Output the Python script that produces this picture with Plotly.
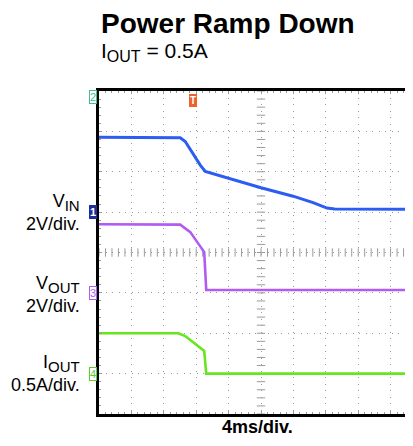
import numpy as np
import plotly.graph_objects as go

# ---- data (read from the scope capture) ----
# time from left edge of screen, ms (4 ms/div)
t_vin = [0.0, 9.42, 10.03, 10.65, 12.50, 13.12, 16.2, 20.0, 23.96, 26.43, 28.15, 29.1, 40.0]
vin_v = [3.71, 3.71, 3.68, 3.50, 2.33, 2.02, 1.65, 1.21, 0.79, 0.47, 0.20, 0.15, 0.14]

t_vout = [0.0, 9.79, 10.03, 11.27, 12.50, 12.99, 13.24, 40.0]
vout_v = [3.40, 3.40, 3.38, 3.01, 2.30, 2.02, 0.14, 0.14]

t_iout = [0.0, 9.79, 10.65, 12.99, 13.24, 40.0]
iout_a = [0.50, 0.50, 0.465, 0.28, 0.0, 0.0]

# scope settings: scale per division and ground-marker position (div)
ms_per_div = 4.0
vin_scale, vin_offset = 2.0, 5.0
vout_scale, vout_offset = 2.0, 3.0
iout_scale, iout_offset = 0.5, 1.0
trigger_ms = 11.64

BLUE = "#2c5cf2"
PURPLE = "#b05cf2"
GREEN = "#66e61e"
GRID = "#9a9a9a"
FONT = "Liberation Sans, Arial, sans-serif"


def to_x(t):
    return [v / ms_per_div for v in t]


def to_y(vals, scale, off):
    return [off + v / scale for v in vals]


fig = go.Figure()

# crosshair tick marks on the centre lines
tick_pos_x = np.arange(0, 10.01, 0.2)
tick_pos_y = np.arange(0, 8.01, 0.2)
fig.add_trace(go.Scatter(x=tick_pos_x, y=[4] * len(tick_pos_x), mode="markers",
                         marker=dict(symbol="line-ns", size=6, line=dict(color=GRID, width=1)),
                         hoverinfo="skip", showlegend=False))
fig.add_trace(go.Scatter(x=[5] * len(tick_pos_y), y=tick_pos_y, mode="markers",
                         marker=dict(symbol="line-ew", size=6, line=dict(color=GRID, width=1)),
                         hoverinfo="skip", showlegend=False))

fig.add_trace(go.Scatter(x=to_x(t_vin), y=to_y(vin_v, vin_scale, vin_offset), mode="lines",
                         line=dict(color=BLUE, width=3), showlegend=False))
fig.add_trace(go.Scatter(x=to_x(t_vout), y=to_y(vout_v, vout_scale, vout_offset), mode="lines",
                         line=dict(color=PURPLE, width=2.6), showlegend=False))
fig.add_trace(go.Scatter(x=to_x(t_iout), y=to_y(iout_a, iout_scale, iout_offset), mode="lines",
                         line=dict(color=GREEN, width=2.6), showlegend=False))

# page body adds an 8px margin; layout numbers below are in figure coordinates
OFF = 8
W, H = 413, 446
L, R, T, B = 90.5, 0, 82.7, 40.1
plot_w = W - L - R
plot_h = H - T - B
div_px = 32.45


def px_x(px):  # page pixel -> paper x
    return (px - OFF - L) / plot_w


def px_y(py):  # page pixel -> paper y
    return (H - B - (py - OFF)) / plot_h


fig.update_layout(
    width=W, height=H,
    margin=dict(l=L, r=R, t=T, b=B, autoexpand=False),
    paper_bgcolor="white", plot_bgcolor="white",
    font=dict(family=FONT, color="black"),
    xaxis=dict(range=[0, plot_w / div_px], dtick=1, tick0=0, showticklabels=False,
               showgrid=True, gridcolor=GRID, gridwidth=1, griddash="1px,5.5px",
               zeroline=False, showline=True, linecolor="black", linewidth=3,
               mirror="allticks", ticks="inside", ticklen=3, tickcolor=GRID,
               minor=dict(dtick=0.2, ticks="inside", ticklen=2, tickcolor=GRID)),
    yaxis=dict(range=[0, 8], dtick=1, tick0=0, showticklabels=False,
               showgrid=True, gridcolor=GRID, gridwidth=1, griddash="1px,5.5px",
               zeroline=False, showline=True, linecolor="black", linewidth=3,
               mirror=False, ticks="inside", ticklen=3, tickcolor=GRID,
               minor=dict(dtick=0.2, ticks="inside", ticklen=2, tickcolor=GRID)),
)

SUB = '<sub><span style="font-size:{}px">{}</span></sub>'

ann = []
# titles
ann.append(dict(text="<b>Power Ramp Down</b>", xref="paper", yref="paper",
                x=px_x(98), y=px_y(23.5), xanchor="left", yanchor="middle",
                showarrow=False, font=dict(size=28, family=FONT)))
ann.append(dict(text="I" + SUB.format(16, "OUT") + " = 0.5A", xref="paper", yref="paper",
                x=px_x(98), y=px_y(52), xanchor="left", yanchor="middle",
                showarrow=False, font=dict(size=21, family=FONT)))
ann.append(dict(text="<b>4ms/div.</b>", xref="paper", yref="paper",
                x=px_x(257), y=px_y(427), xanchor="center", yanchor="middle",
                showarrow=False, font=dict(size=18, family=FONT)))

# channel labels
lab_x = px_x(81)
for txt, yy in [("V" + SUB.format(15, "IN") + "<br>2V/div.", vin_offset),
                ("V" + SUB.format(15, "OUT") + "<br>2V/div.", vout_offset - 0.05),
                ("I" + SUB.format(15, "OUT") + "<br>0.5A/div.", iout_offset)]:
    ann.append(dict(text=txt, xref="paper", yref="y", x=lab_x, y=yy,
                    xanchor="right", yanchor="middle", align="right",
                    showarrow=False, font=dict(size=18, family=FONT)))

# channel ground markers
mk_x = px_x(96)
ann.append(dict(text="<b>1</b>", xref="paper", yref="y", x=mk_x, y=vin_offset,
                xanchor="right", yanchor="middle", showarrow=False,
                font=dict(size=11, color="white", family=FONT),
                bgcolor="#1c2d9c", bordercolor="#1c2d9c", borderwidth=1, borderpad=0))
ann.append(dict(text="3", xref="paper", yref="y", x=mk_x, y=vout_offset,
                xanchor="right", yanchor="middle", showarrow=False,
                font=dict(size=11, color=PURPLE, family=FONT),
                bgcolor="white", bordercolor=PURPLE, borderwidth=1, borderpad=0))
ann.append(dict(text="4", xref="paper", yref="y", x=mk_x, y=iout_offset,
                xanchor="right", yanchor="middle", showarrow=False,
                font=dict(size=11, color="#5ccc30", family=FONT),
                bgcolor="white", bordercolor="#5ccc30", borderwidth=1, borderpad=0))
ann.append(dict(text="2", xref="paper", yref="paper", x=mk_x, y=px_y(90),
                xanchor="right", yanchor="top", showarrow=False,
                font=dict(size=11, color="#3cbf95", family=FONT),
                bgcolor="white", bordercolor="#3cbf95", borderwidth=1, borderpad=0))
# trigger marker
ann.append(dict(text="<b>T</b>", xref="x", yref="paper", x=trigger_ms / ms_per_div, y=px_y(94),
                xanchor="center", yanchor="top", showarrow=False,
                font=dict(size=10, color="white", family=FONT),
                bgcolor="#f0602a", bordercolor="#f0602a", borderwidth=1, borderpad=0))

fig.update_layout(annotations=ann)
fig.write_html("out.html")
